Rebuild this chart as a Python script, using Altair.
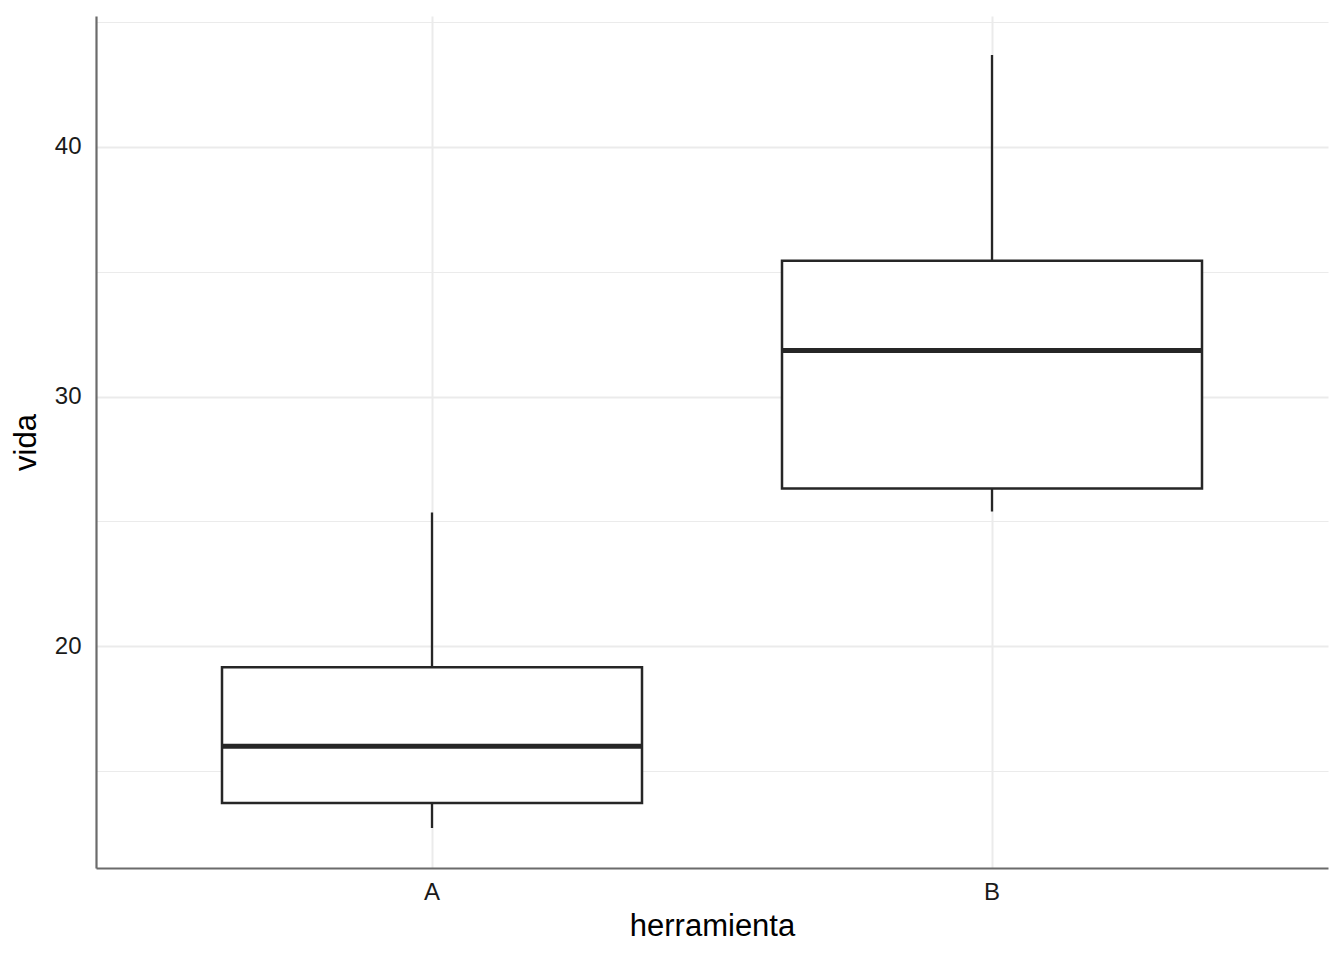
import altair as alt
import pandas as pd

herramienta = ["A", "B"]
ymin = [12.72, 25.40]
q1 = [13.72, 26.32]
median = [16.00, 31.84]
q3 = [19.16, 35.44]
ymax = [25.36, 43.68]

df = pd.DataFrame({"herramienta": herramienta, "ymin": ymin, "q1": q1,
                   "median": median, "q3": q3, "ymax": ymax})

W, H = 1232, 852
xscale = alt.Scale(domain=herramienta, paddingInner=0.25, paddingOuter=0.225)
yscale = alt.Scale(domain=[11.12, 45.24], nice=False, zero=False)

common = dict(ticks=False, domainColor="#6b6b6b", domainWidth=2.2,
              gridColor="#ebebeb", labelFontSize=24, labelColor="#1a1a1a",
              labelFont="Liberation Sans",
              titleFont="Liberation Sans", titleFontSize=31,
              titleFontWeight="normal", titleColor="#000000")

xaxis = alt.Axis(title="herramienta", labelAngle=0, grid=True, gridWidth=2,
                 labelPadding=12, titlePadding=7, **common)
yaxis = alt.Axis(title="vida", values=[15, 20, 25, 30, 35, 40, 45],
                 labelExpr="datum.value % 10 == 0 ? datum.label : ''",
                 gridWidth={"expr": "datum.value % 10 == 0 ? 2 : 1"},
                 labelPadding=15, titlePadding=12, **common)

base = alt.Chart(df)
whisk = base.mark_rule(color="#262626", strokeWidth=2.3).encode(
    x=alt.X("herramienta:N", scale=xscale, axis=xaxis),
    y=alt.Y("ymin:Q", scale=yscale, axis=yaxis),
    y2="ymax:Q",
)
box = base.mark_bar(fill="white", stroke="#262626", strokeWidth=2.5).encode(
    x=alt.X("herramienta:N", scale=xscale, axis=xaxis),
    y=alt.Y("q1:Q", scale=yscale, axis=yaxis),
    y2="q3:Q",
)
med = base.mark_tick(color="#262626", thickness=5, size=420, opacity=1).encode(
    x=alt.X("herramienta:N", scale=xscale, axis=xaxis),
    y=alt.Y("median:Q", scale=yscale, axis=yaxis),
)

chart = alt.layer(whisk, box, med).properties(
    width=W, height=H,
    autosize=alt.AutoSizeParams(type="none"),
    padding={"left": 88, "top": 8, "right": 8, "bottom": 80},
).configure_view(stroke=None)

chart.save("out.html", embed_options={"renderer": "svg", "actions": False})
